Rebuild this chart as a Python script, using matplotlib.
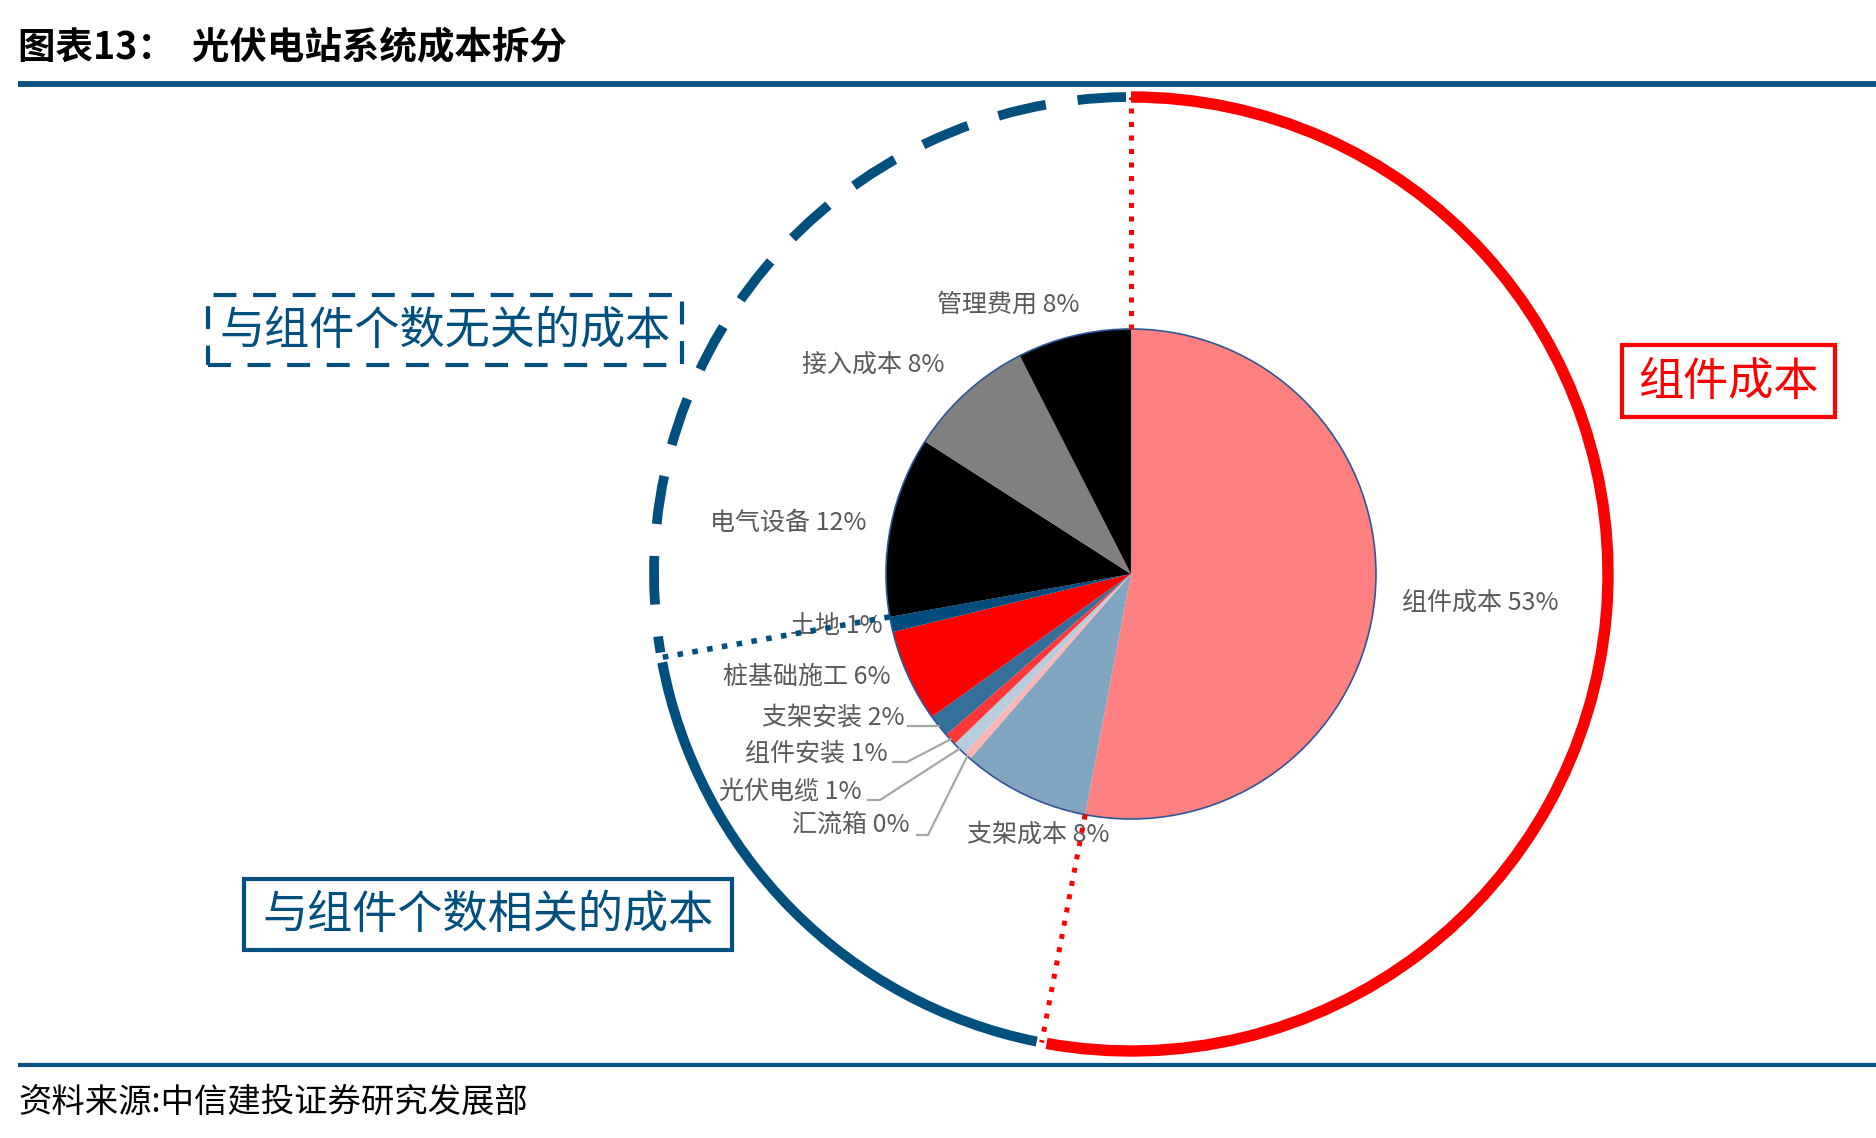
import numpy as np
import matplotlib.pyplot as plt
from matplotlib.patches import Arc, Circle, Rectangle

plt.rcParams['font.family'] = ['Noto Sans CJK SC', 'DejaVu Sans']

# 数据：光伏电站系统成本拆分（顺时针，从12点开始）
names = ["组件成本", "支架成本", "汇流箱", "光伏电缆", "组件安装", "支架安装",
         "桩基础施工", "土地", "电气设备", "接入成本", "管理费用"]
shares = [53.0, 8.4, 0.5, 0.9, 0.8, 1.5, 6.1, 1.0, 11.9, 8.4, 7.5]
pct_text = [53, 8, 0, 1, 1, 2, 6, 1, 12, 8, 8]
colors = ["#FF8080", "#7FA5C0", "#FFB3B3", "#B7CDDD", "#FF3737", "#35709A",
          "#FF0000", "#004C7F", "#000000", "#808080", "#000000"]

# 分组：组件成本 / 与组件个数相关 / 与组件个数无关
n_module = 1
n_related = 7

W, H = 1876, 1138
BLUE = "#00507F"
RED = "#FF0000"
GRAY = "#595959"

def iy(y):
    # 图片坐标(向下) -> 轴坐标(向上)
    return H - y

cx, cy = 1131, iy(574)
R = 245      # 饼图半径
RB = 477     # 外圈半径

fig = plt.figure(figsize=(W / 100, H / 100), dpi=100)
ax = fig.add_axes([0, 0, 1, 1])

ax.pie(shares, colors=colors, startangle=90, counterclock=False,
       center=(cx, cy), radius=R, wedgeprops=dict(linewidth=0))
ax.add_patch(Circle((cx, cy), R, fill=False, ec="#2F5597", lw=1.2, zorder=3))

# 扇区边界角度
cum = np.cumsum([0] + shares) / sum(shares) * 360
bounds = 90 - cum
mids = (bounds[:-1] + bounds[1:]) / 2
b_mod = bounds[n_module]
b_rel = bounds[n_module + n_related]

# 标签位置（图片坐标）
label_pos = [(1480, 603), (1038, 835), (851, 825), (790, 791), (816, 754),
             (833, 718), (807, 677), (836, 626), (788, 523), (873, 365),
             (1008, 305)]
for name, p, (x, y) in zip(names, pct_text, label_pos):
    ax.text(x, iy(y), f"{name} {p}%", fontsize=18, color=GRAY,
            ha="center", va="center", zorder=4)

# 引导线：(起点x, y, 拐点x)
leaders = {5: (908, 726, 922), 4: (893, 762, 907), 3: (868, 800, 880), 2: (917, 835, 928)}
for i, (x0, y0, x1) in leaders.items():
    a = np.radians(mids[i])
    ex, ey = cx + R * np.cos(a), cy + R * np.sin(a)
    ax.plot([x0, x1, ex], [iy(y0), iy(y0), ey], color="#A6A6A6", lw=1.6, zorder=4)

# 外圈弧线
ax.add_patch(Arc((cx, cy), 2 * RB, 2 * RB, theta1=b_mod + 0.6, theta2=90,
                 color=RED, lw=8.2, zorder=2))
ax.add_patch(Arc((cx, cy), 2 * RB, 2 * RB, theta1=b_rel + 360 + 0.6,
                 theta2=b_mod + 360 - 0.6, color=BLUE, lw=7.2, zorder=2))
ax.add_patch(Arc((cx, cy), 2 * RB, 2 * RB, theta1=90.6, theta2=b_rel + 360 - 0.6,
                 color=BLUE, lw=7.0, linestyle=(0, (5.0, 3.3)), zorder=2))

# 径向虚线
for ang, col, lw in [(90, RED, 3.6), (b_mod, RED, 3.6), (b_rel, BLUE, 4.0)]:
    a = np.radians(ang)
    ax.plot([cx + R * np.cos(a), cx + RB * np.cos(a)],
            [cy + R * np.sin(a), cy + RB * np.sin(a)],
            color=col, lw=lw, linestyle=(0, (1, 1.7)), zorder=5)

# 注释框
ax.add_patch(Rectangle((208, iy(365)), 474, 70, fill=False, ec=BLUE, lw=3,
                       linestyle=(0, (5.5, 4)), zorder=3))
ax.text(445, iy(331), "与组件个数无关的成本", fontsize=32.5, color=BLUE,
        ha="center", va="center")
ax.add_patch(Rectangle((244, iy(950)), 488, 71, fill=False, ec=BLUE, lw=3, zorder=3))
ax.text(488, iy(915), "与组件个数相关的成本", fontsize=32.5, color=BLUE,
        ha="center", va="center")
ax.add_patch(Rectangle((1622, iy(417)), 213, 72, fill=False, ec=RED, lw=3, zorder=3))
ax.text(1728, iy(382), "组件成本", fontsize=32.5, color=RED, ha="center", va="center")

# 标题、分隔线、来源
ax.text(18, iy(48), "图表13：  光伏电站系统成本拆分", fontsize=27,
        fontweight="bold", ha="left", va="center")
ax.plot([18, W], [iy(84), iy(84)], color="#0B5083", lw=4.2, solid_capstyle="butt")
ax.plot([18, W], [iy(1065), iy(1065)], color="#0B5083", lw=3, solid_capstyle="butt")
ax.text(18, iy(1102), "资料来源:中信建投证券研究发展部", fontsize=24,
        style="italic", ha="left", va="center")

ax.set_xlim(0, W)
ax.set_ylim(0, H)
ax.set_aspect("equal")
ax.axis("off")

fig.savefig("out.png", dpi=100)
